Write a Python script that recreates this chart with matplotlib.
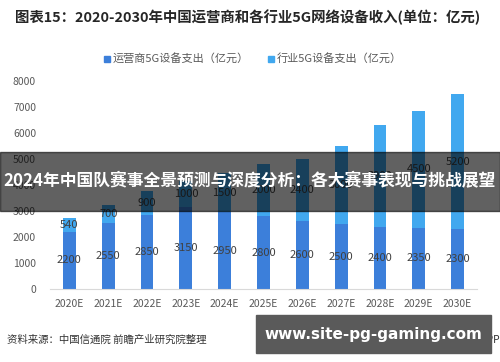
import matplotlib.pyplot as plt
from matplotlib.patches import Rectangle

plt.rcParams['font.family'] = ['Noto Sans CJK SC', 'DejaVu Sans']

years = ['2020E', '2021E', '2022E', '2023E', '2024E', '2025E',
         '2026E', '2027E', '2028E', '2029E', '2030E']
operator = [2200, 2550, 2850, 3150, 2950, 2800, 2600, 2500, 2400, 2350, 2300]
industry = [540, 700, 900, 1000, 1500, 2000, 2400, 3000, 3900, 4500, 5200]
yticks = [0, 1000, 2000, 3000, 4000, 5000, 6000, 7000, 8000]

W, H = 500, 362
c_op = '#3c7fda'
c_ind = '#41a8ef'
grey = '#595959'

fig = plt.figure(figsize=(W / 100, H / 100), dpi=100)
fig.patch.set_facecolor('white')
ax = fig.add_axes([50 / W, (H - 289) / H, 427 / W, 208 / H])

x = range(len(years))
ax.bar(x, operator, width=0.33, color=c_op, zorder=2)
ax.bar(x, industry, width=0.33, bottom=operator, color=c_ind, zorder=2)

for i in x:
    ax.text(i, operator[i] / 2, str(operator[i]), ha='center', va='center',
            fontsize=8, color='#404040', zorder=3)
    ax.text(i, operator[i] + industry[i] / 2, str(industry[i]), ha='center',
            va='center', fontsize=8, color='#404040', zorder=3)

ax.set_xlim(-0.5, len(years) - 0.5)
ax.set_ylim(0, 8000)
ax.set_yticks(yticks)
ax.set_yticklabels([str(v) for v in yticks])
ax.set_xticks(list(x))
ax.set_xticklabels(years)
ax.tick_params(axis='both', length=0, labelsize=7.5, colors=grey)
ax.tick_params(axis='x', pad=7)
ax.tick_params(axis='y', pad=10)
for s in ['top', 'right', 'left']:
    ax.spines[s].set_visible(False)
ax.spines['bottom'].set_color('#d9d9d9')

# title
fig.text(15 / W, 1 - 17 / H, '图表15：2020-2030年中国运营商和各行业5G网络设备收入(单位：亿元)',
         fontsize=10.4, fontweight='bold', color='#262626', va='center', ha='left')

# legend
for lx, label, col in [(104, '运营商5G设备支出（亿元）', c_op), (268, '行业5G设备支出（亿元）', c_ind)]:
    fig.patches.append(Rectangle((lx / W, 1 - 61.5 / H), 6 / W, 6 / H,
                                 transform=fig.transFigure, color=col, figure=fig))
    fig.text((lx + 9) / W, 1 - 58.5 / H, label, fontsize=8, color=grey,
             va='center', ha='left')

# footer
fig.text(7 / W, 1 - 340 / H, '资料来源：中国信通院 前瞻产业研究院整理',
         fontsize=7.5, color='#333333', va='center', ha='left')
fig.text(500 / W, 1 - 340 / H, '前瞻经济学人APP', fontsize=7.5,
         color='#333333', va='center', ha='right')

# overlay band
fig.patches.append(Rectangle((0, 1 - 211 / H), 1, 59 / H, transform=fig.transFigure,
                             color='black', alpha=0.62, zorder=10, figure=fig))
fig.text(0.5, 1 - 181 / H, '2024年中国队赛事全景预测与深度分析：各大赛事表现与挑战展望',
         fontsize=12.1, fontweight='bold', color='white', va='center', ha='center', zorder=11)

# bottom box
fig.patches.append(Rectangle((256 / W, 1 - 353 / H), 235 / W, 38 / H,
                             transform=fig.transFigure, color='#5a5a5a', zorder=10, figure=fig))
fig.text(373 / W, 1 - 334 / H, 'www.site-pg-gaming.com', family='DejaVu Sans',
         fontsize=11, fontweight='bold', color='white', va='center', ha='center', zorder=11)

fig.savefig('out.png', dpi=100)
